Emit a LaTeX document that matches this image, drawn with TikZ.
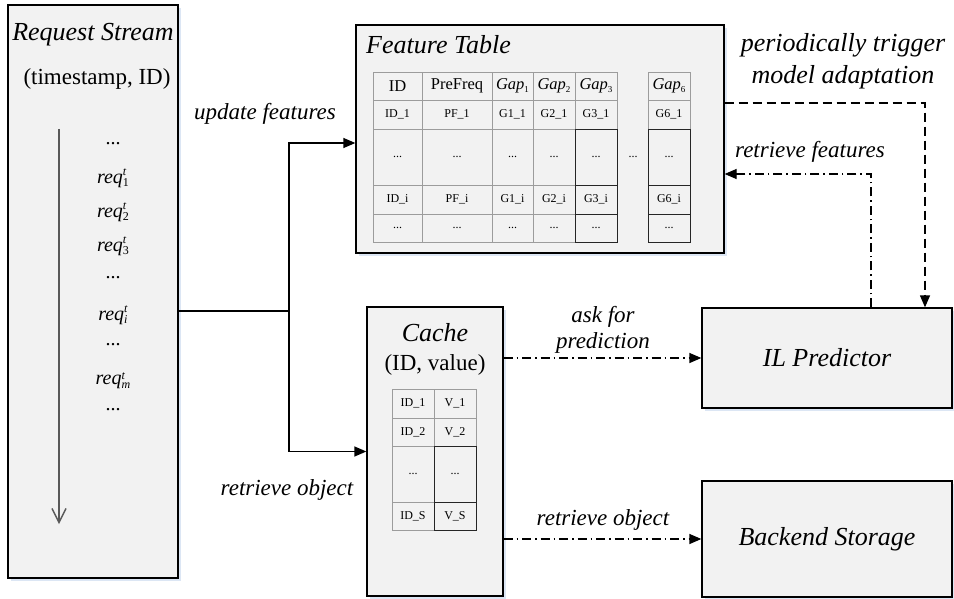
\documentclass[tikz,border=0pt]{standalone}
\usepackage{fontspec}
\setmainfont{Liberation Serif}
\usetikzlibrary{arrows.meta,shadows}
\definecolor{boxfill}{HTML}{F2F2F2}
\definecolor{cellline}{HTML}{9C9C9C}
\definecolor{shade}{HTML}{DCE6F4}
\newcommand\reqt[1]{\textit{req}\raisebox{-3.5pt}{\fontsize{12}{11}\selectfont\shortstack[l]{\textit{t}\\#1}}}
\newcommand\gapn[1]{\textit{Gap}\raisebox{-0.35ex}{\fontsize{9}{9}\selectfont #1}}
\newcommand\mycell[7]{\node[#1, minimum width={(#5-#3)*1pt}, minimum height={(#6-#4)*1pt}] (#2) at ({(#3+#5)/2},{(#4+#6)/2}) {#7};}
\begin{document}
\begin{tikzpicture}[x=1pt,y=-1pt,
  box/.style={draw=black, line width=1.3pt, fill=boxfill, inner sep=0pt,
    general shadow={fill=shade, shadow xshift=2.5pt, shadow yshift=-3pt}},
  ttl/.style={font=\fontsize{26}{30}\selectfont\itshape, inner sep=0pt},
  sub/.style={font=\fontsize{23}{26}\selectfont, inner sep=0pt},
  lbl/.style={font=\fontsize{23}{26}\selectfont\itshape, inner sep=0pt, align=center},
  item/.style={font=\fontsize{20}{22}\selectfont, inner sep=0pt},
  cell/.style={draw=cellline, line width=0.9pt, fill=boxfill, inner sep=0pt, font=\fontsize{12}{14}\selectfont},
  darkcell/.style={cell, draw=black!85},
  hcell/.style={cell, font=\fontsize{16.5}{18}\selectfont},
  conn/.style={line width=1.3pt, draw=black},
  tip/.style={-{Triangle[length=12pt,width=10pt]}},
  dashl/.style={conn, dash pattern=on 9pt off 5pt},
  dashdotl/.style={conn, dash pattern=on 9pt off 4pt on 1.5pt off 4pt}
]
\useasboundingbox (0,0) rectangle (954,599);

% main boxes
\node[box, minimum width=170pt, minimum height=573pt] (RS) at (93,291.5) {};
\node[box, minimum width=368pt, minimum height=228pt] (FT) at (540,139) {};
\node[box, minimum width=136pt, minimum height=289pt] (CA) at (435,451.5) {};
\node[box, minimum width=250pt, minimum height=100pt] (IL) at (827,358) {};
\node[box, minimum width=250pt, minimum height=116pt] (BS) at (827,539) {};

% request stream content
\node[ttl] (rstitle) at (93,35) {Request Stream};
\node[sub] (rssub) at (97,79) {(timestamp, ID)};
\coordinate (sa) at (59,129);
\coordinate (sb) at (59,524);
\draw[line width=1.4pt, draw=black!65, -{Straight Barb[length=14pt,width=14pt,line width=1.4pt]}] (sa) -- (sb);
\node[item] (d0) at (113,144) {...};
\node[item] (r1) at (113,178) {\reqt{1}};
\node[item] (r2) at (113,212) {\reqt{2}};
\node[item] (r3) at (113,246) {\reqt{3}};
\node[item] (d1) at (113,278) {...};
\node[item] (ri) at (113,315) {\reqt{\textit{i}}};
\node[item] (d2) at (113,345) {...};
\node[item] (rm) at (113,381) {\reqt{\textit{m}}};
\node[item] (d3) at (113,410) {...};

% feature table
\node[ttl, anchor=west] (fttitle) at (366,45) {Feature Table};
% header row
\mycell{hcell}{h1}{373}{72}{422}{100}{ID}
\mycell{hcell}{h2}{422}{72}{492}{100}{PreFreq}
\mycell{hcell}{h3}{492}{72}{533}{100}{\gapn{1}}
\mycell{hcell}{h4}{533}{72}{575}{100}{\gapn{2}}
\mycell{hcell}{h5}{575}{72}{617}{100}{\gapn{3}}
\mycell{hcell}{h6}{648}{72}{690}{100}{\gapn{6}}
% row 1
\mycell{cell}{a1}{373}{100}{422}{129}{ID\_1}
\mycell{cell}{a2}{422}{100}{492}{129}{PF\_1}
\mycell{cell}{a3}{492}{100}{533}{129}{G1\_1}
\mycell{cell}{a4}{533}{100}{575}{129}{G2\_1}
\mycell{cell}{a5}{575}{100}{617}{129}{G3\_1}
\mycell{cell}{a6}{648}{100}{690}{129}{G6\_1}
% row 2
\mycell{cell}{b1}{373}{129}{422}{185}{...}
\mycell{cell}{b2}{422}{129}{492}{185}{...}
\mycell{cell}{b3}{492}{129}{533}{185}{...}
\mycell{cell}{b4}{533}{129}{575}{185}{...}
\mycell{darkcell}{b5}{575}{129}{617}{185}{...}
\mycell{darkcell}{b6}{648}{129}{690}{185}{...}
% row 3
\mycell{cell}{c1}{373}{185}{422}{214}{ID\_i}
\mycell{cell}{c2}{422}{185}{492}{214}{PF\_i}
\mycell{cell}{c3}{492}{185}{533}{214}{G1\_i}
\mycell{cell}{c4}{533}{185}{575}{214}{G2\_i}
\mycell{darkcell}{c5}{575}{185}{617}{214}{G3\_i}
\mycell{darkcell}{c6}{648}{185}{690}{214}{G6\_i}
% row 4
\mycell{cell}{e1}{373}{214}{422}{242}{...}
\mycell{cell}{e2}{422}{214}{492}{242}{...}
\mycell{cell}{e3}{492}{214}{533}{242}{...}
\mycell{cell}{e4}{533}{214}{575}{242}{...}
\mycell{darkcell}{e5}{575}{214}{617}{242}{...}
\mycell{darkcell}{e6}{648}{214}{690}{242}{...}
\node[font=\fontsize{12}{14}\selectfont, inner sep=0pt] (ftdots) at (633,157) {...};

% cache
\node[ttl] (catitle) at (435,333) {Cache};
\node[sub] (casub) at (435,365) {(ID, value)};
\mycell{cell}{k1}{392}{389}{434}{418}{ID\_1}
\mycell{cell}{v1}{434}{389}{476}{418}{V\_1}
\mycell{cell}{k2}{392}{418}{434}{446}{ID\_2}
\mycell{cell}{v2}{434}{418}{476}{446}{V\_2}
\mycell{cell}{k3}{392}{446}{434}{502}{...}
\mycell{darkcell}{v3}{434}{446}{476}{502}{...}
\mycell{cell}{k4}{392}{502}{434}{530}{ID\_S}
\mycell{darkcell}{v4}{434}{502}{476}{530}{V\_S}

% right boxes
\node[ttl] (iltitle) at (IL) {IL Predictor};
\node[ttl] (bstitle) at (BS) {Backend Storage};

% connectors
\coordinate (split) at (289,311);
\draw[conn] (RS.east |- split) -- (split);
\draw[conn, tip] (split) |- ([yshift=-4pt]FT.west);
\draw[conn, tip] (split) |- (CA.west);
\draw[dashdotl, tip] (CA.east |- IL.west) -- (IL.west);
\draw[dashdotl, tip] (CA.east |- BS.west) -- (BS.west);
\coordinate (trig) at (925,103);
\draw[dashl, tip] (FT.east |- trig) -| (IL.north -| trig);
\coordinate (rf) at (871,174);
\draw[dashdotl, tip] (IL.north -| rf) |- (FT.east |- rf);

% labels
\node[lbl] (lupd) at (265,114) {update features};
\node[lbl] (lret) at (287,490) {retrieve object};
\node[lbl] (lask) at (603,330) {ask for\\prediction};
\node[lbl] (lret2) at (603,520) {retrieve object};
\node[lbl] (lrf) at (810,152) {retrieve features};
\node[lbl, font=\fontsize{26}{32}\selectfont\itshape] (ltrig) at (843,61) {periodically trigger\\model adaptation};
\end{tikzpicture}
\end{document}
